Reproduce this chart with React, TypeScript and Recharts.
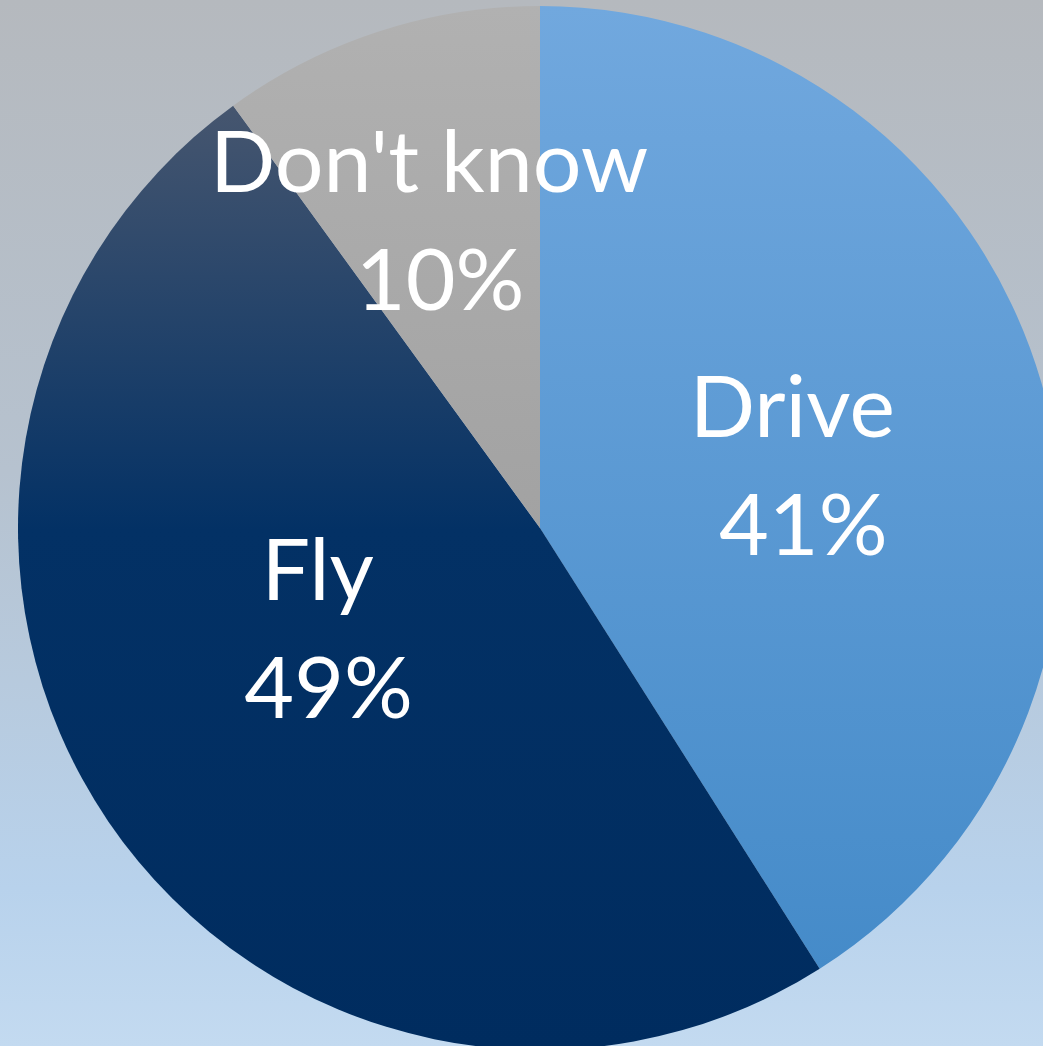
import React from "react";
import { PieChart, Pie, Cell } from "recharts";

const categories = ["Drive", "Fly", "Don't know"];
const values = [41, 49, 10];
const percentLabels = ["41%", "49%", "10%"];

const data = categories.map((name, i) => ({ name, value: values[i], pct: percentLabels[i] }));

const W = 1043;
const H = 1046;
const RAD = Math.PI / 180;
// label placement tweaks (radius, angle offset in degrees) per slice
const labelTweak = [
  { r: 273, da: 3.3 },
  { r: 229, da: -15.8 },
  { r: 352, da: -0.5 },
];

const FONT = "Lato, 'Noto Sans', sans-serif";

const renderLabel = (props: any) => {
  const { cx, cy, midAngle, index } = props;
  const t = labelTweak[index];
  const a = (midAngle + t.da) * RAD;
  const x = cx + t.r * Math.cos(-a);
  const y = cy + t.r * Math.sin(-a);
  const d = data[index];
  return (
    <g key={`lbl-${index}`}>
      <text x={x - 5} y={y} textAnchor="middle" fill="#ffffff" fontSize={86} fontFamily={FONT}>
        {d.name}
      </text>
      <text x={x + 6} y={y + 118} textAnchor="middle" fill="#ffffff" fontSize={86} fontFamily={FONT}>
        {d.pct}
      </text>
    </g>
  );
};

export default function App() {
  return (
    <div
      style={{
        position: "absolute",
        left: 0,
        top: 0,
        width: W,
        height: H,
        overflow: "hidden",
        background: "linear-gradient(to bottom, #b5b9be 0%, #b6c2cf 45%, #b8d2ec 85%, #c3daf0 100%)",
      }}
    >
      <PieChart width={W} height={H} margin={{ top: 0, right: 0, bottom: 0, left: 0 }}>
        <defs>
          <linearGradient id="gDrive" x1="0" y1="0" x2="0" y2="1">
            <stop offset="0%" stopColor="#71a8de" />
            <stop offset="100%" stopColor="#458bc9" />
          </linearGradient>
          <linearGradient id="gFly" x1="0" y1="0" x2="0" y2="1">
            <stop offset="0%" stopColor="#46566f" />
            <stop offset="45%" stopColor="#033165" />
            <stop offset="100%" stopColor="#002c5f" />
          </linearGradient>
          <linearGradient id="gDk" x1="0" y1="0" x2="0" y2="1">
            <stop offset="0%" stopColor="#b1b1b1" />
            <stop offset="100%" stopColor="#a2a2a2" />
          </linearGradient>
        </defs>
        <Pie
          data={data}
          dataKey="value"
          nameKey="name"
          cx={540}
          cy={528}
          outerRadius={522}
          innerRadius={0}
          startAngle={90}
          endAngle={-270}
          stroke="none"
          labelLine={false}
          label={renderLabel}
          isAnimationActive={false}
        >
          <Cell fill="url(#gDrive)" />
          <Cell fill="url(#gFly)" />
          <Cell fill="url(#gDk)" />
        </Pie>
      </PieChart>
    </div>
  );
}
